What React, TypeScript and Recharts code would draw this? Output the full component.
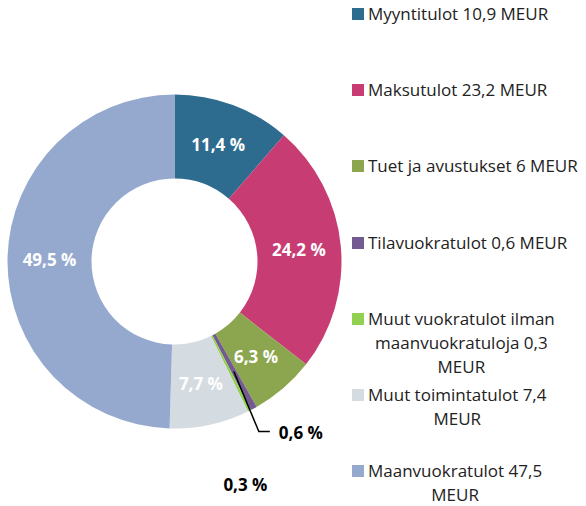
import { PieChart, Pie, Cell, Legend } from "recharts";

const categories = [
  "Myyntitulot",
  "Maksutulot",
  "Tuet ja avustukset",
  "Tilavuokratulot",
  "Muut vuokratulot ilman maanvuokratuloja",
  "Muut toimintatulot",
  "Maanvuokratulot",
];
const values = [10.9, 23.2, 6, 0.6, 0.3, 7.4, 47.5];
const colors = ["#2E6C8F", "#C83C74", "#8BA64E", "#735B91", "#92D050", "#D4DCE2", "#95A9CF"];
const legendLines = [
  ["Myyntitulot 10,9 MEUR"],
  ["Maksutulot 23,2 MEUR"],
  ["Tuet ja avustukset 6 MEUR"],
  ["Tilavuokratulot 0,6 MEUR"],
  ["Muut vuokratulot ilman", "maanvuokratuloja 0,3", "MEUR"],
  ["Muut toimintatulot 7,4", "MEUR"],
  ["Maanvuokratulot 47,5", "MEUR"],
];

const data = categories.map((name, i) => ({ name, value: values[i] }));

const FONT = "'Open Sans', sans-serif";
const RADIAN = Math.PI / 180;

function fmtPct(p: number) {
  return (p * 100).toFixed(1).replace(".", ",") + " %";
}

function renderLabel(props: any) {
  const { cx, cy, midAngle, innerRadius, outerRadius, percent, index } = props;
  const cos = Math.cos(-midAngle * RADIAN);
  const sin = Math.sin(-midAngle * RADIAN);
  const mid = (innerRadius + outerRadius) / 2;
  const text = fmtPct(percent);

  if (index === 3) {
    // small slice: leader line out to the lower right
    const sx = cx + mid * cos;
    const sy = cy + mid * sin;
    const ex = sx + 25;
    const ey = sy + 60;
    return (
      <g key="lbl-3">
        <polyline
          points={`${sx},${sy} ${ex},${ey} ${ex + 11},${ey}`}
          fill="none"
          stroke="#000"
          strokeWidth={1.5}
        />
        <text x={ex + 20} y={ey + 1} fill="#000" fontFamily={FONT} fontSize={17} fontWeight="bold" dominantBaseline="central">
          {text}
        </text>
      </g>
    );
  }
  if (index === 4) {
    const ox = cx + outerRadius * cos;
    const oy = cy + outerRadius * sin;
    return (
      <text key="lbl-4" x={ox - 4} y={oy + 74} fill="#000" fontFamily={FONT} fontSize={17} fontWeight="bold" textAnchor="middle" dominantBaseline="central">
        {text}
      </text>
    );
  }
  return (
    <text
      key={`lbl-${index}`}
      x={cx + mid * cos}
      y={cy + mid * sin}
      fill="#fff"
      fontFamily={FONT}
      fontSize={17}
      fontWeight="bold"
      textAnchor="middle"
      dominantBaseline="central"
    >
      {text}
    </text>
  );
}

function LegendContent() {
  return (
    <div style={{ position: "relative", width: 242, height: 506, fontFamily: FONT, fontSize: 17, color: "#222" }}>
      {data.map((d, i) => {
        const top = 14 + i * 76.2;
        return (
          <div key={d.name} style={{ position: "absolute", left: 0, top: top - 12 }}>
            <div
              style={{
                position: "absolute",
                left: 8,
                top: 6,
                width: 12,
                height: 12,
                background: colors[i],
              }}
            />
            <div
              style={{
                position: "absolute",
                left: 24,
                top: 0,
                display: "inline-block",
                whiteSpace: "nowrap",
                textAlign: "center",
                lineHeight: "24px",
              }}
            >
              {legendLines[i].map((line, j) => (
                <div key={j}>{line}</div>
              ))}
            </div>
          </div>
        );
      })}
    </div>
  );
}

export default function App() {
  return (
    <div style={{ position: "absolute", left: 0, top: 0, width: 586, height: 506, background: "#fff" }}>
      <PieChart width={586} height={506} margin={{ top: 0, right: 0, bottom: 0, left: 0 }}>
        <Pie
          data={data}
          dataKey="value"
          nameKey="name"
          cx={174.5}
          cy={261.5}
          innerRadius={83}
          outerRadius={167}
          startAngle={90}
          endAngle={-270}
          stroke="none"
          label={renderLabel}
          labelLine={false}
          isAnimationActive={false}
        >
          {data.map((d, i) => (
            <Cell key={d.name} fill={colors[i]} />
          ))}
        </Pie>
        <Legend
          layout="vertical"
          align="right"
          verticalAlign="top"
          wrapperStyle={{ left: 344, top: 0, width: 242 }}
          content={() => <LegendContent />}
        />
      </PieChart>
    </div>
  );
}
